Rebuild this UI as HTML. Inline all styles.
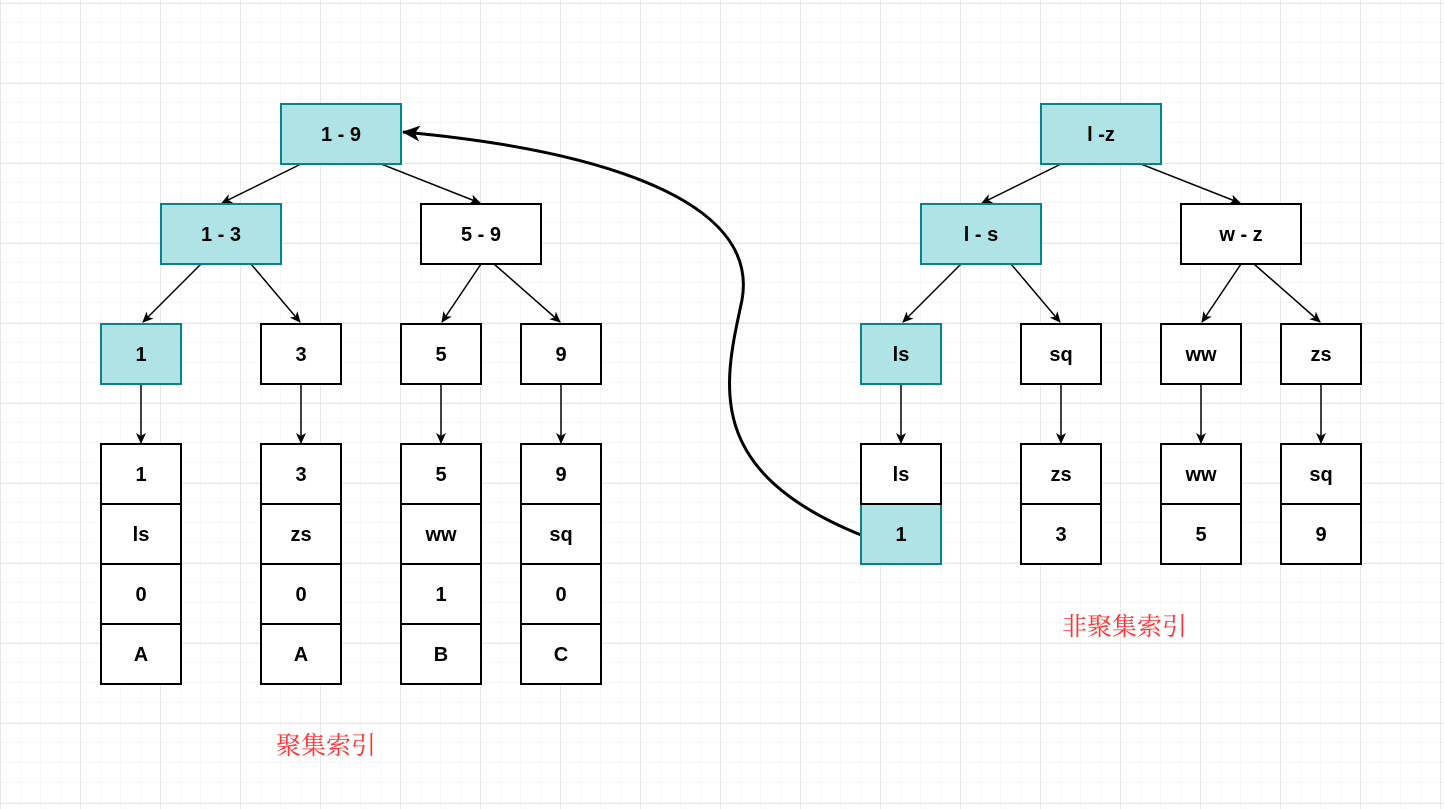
<!DOCTYPE html><html><head><meta charset="utf-8"><style>
body{margin:0;background:#fff}
svg{display:block}
text{font-family:"Liberation Sans",sans-serif;font-weight:bold;font-size:20px}
.cn{font-family:"Liberation Serif","Noto Serif CJK SC",serif;font-weight:normal;font-size:25px;fill:#ff3333}
</style></head><body>
<svg width="1444" height="809" xmlns="http://www.w3.org/2000/svg">
<defs>
<pattern id="mi" width="20" height="20" patternUnits="userSpaceOnUse" x="1" y="3"><path d="M20 0V20M0 20H20" stroke="#efefef" stroke-width="1" fill="none"/></pattern>
<pattern id="ma" width="80" height="80" patternUnits="userSpaceOnUse" x="0.5" y="3.5"><path d="M0 0V80M0 0H80" stroke="#d0d0d0" stroke-width="1" fill="none"/></pattern>
<marker id="ar" markerWidth="12" markerHeight="12" refX="10" refY="6" orient="auto" markerUnits="userSpaceOnUse"><path d="M0,1 L11,6 L0,11 L3,6Z" fill="#000"/></marker>
<marker id="ar2" markerWidth="20" markerHeight="18" refX="17" refY="9" orient="auto" markerUnits="userSpaceOnUse"><path d="M0,1 L18,9 L0,17 L5,9Z" fill="#000"/></marker>
</defs>
<rect width="1444" height="809" fill="url(#mi)"/>
<rect width="1444" height="809" fill="url(#ma)"/>
<g stroke="#000" stroke-width="1.5" fill="none" marker-end="url(#ar)">
<line x1="301" y1="164" x2="222" y2="203"/><line x1="381" y1="164" x2="480" y2="203"/>
<line x1="201" y1="264" x2="143" y2="322"/><line x1="251" y1="264" x2="300" y2="322"/>
<line x1="481" y1="264" x2="442" y2="322"/><line x1="494" y1="264" x2="560" y2="322"/>
<line x1="1061" y1="164" x2="982" y2="203"/><line x1="1141" y1="164" x2="1240" y2="203"/>
<line x1="961" y1="264" x2="903" y2="322"/><line x1="1011" y1="264" x2="1060" y2="322"/>
<line x1="1241" y1="264" x2="1202" y2="322"/><line x1="1254" y1="264" x2="1320" y2="322"/>
<line x1="141" y1="384" x2="141" y2="443"/><line x1="301" y1="384" x2="301" y2="443"/>
<line x1="441" y1="384" x2="441" y2="443"/><line x1="561" y1="384" x2="561" y2="443"/>
<line x1="901" y1="384" x2="901" y2="443"/><line x1="1061" y1="384" x2="1061" y2="443"/>
<line x1="1201" y1="384" x2="1201" y2="443"/><line x1="1321" y1="384" x2="1321" y2="443"/>
</g>
<path d="M861 535 C700 470, 725 380, 742 300 C760 200, 600 150, 403 132" stroke="#000" stroke-width="3" fill="none" marker-end="url(#ar2)"/>
<g stroke-width="2">
<g fill="#b0e3e6" stroke="#0e8088">
<rect x="281" y="104" width="120" height="60"/><rect x="161" y="204" width="120" height="60"/><rect x="101" y="324" width="80" height="60"/>
<rect x="1041" y="104" width="120" height="60"/><rect x="921" y="204" width="120" height="60"/><rect x="861" y="324" width="80" height="60"/><rect x="861" y="504" width="80" height="60"/>
</g>
<g fill="#fff" stroke="#000">
<rect x="421" y="204" width="120" height="60"/><rect x="1181" y="204" width="120" height="60"/>
<rect x="261" y="324" width="80" height="60"/><rect x="401" y="324" width="80" height="60"/><rect x="521" y="324" width="80" height="60"/>
<rect x="1021" y="324" width="80" height="60"/><rect x="1161" y="324" width="80" height="60"/><rect x="1281" y="324" width="80" height="60"/>
<rect x="101" y="444" width="80" height="240"/><rect x="261" y="444" width="80" height="240"/><rect x="401" y="444" width="80" height="240"/><rect x="521" y="444" width="80" height="240"/>
<path d="M101 504H181M101 564H181M101 624H181M261 504H341M261 564H341M261 624H341M401 504H481M401 564H481M401 624H481M521 504H601M521 564H601M521 624H601"/>
<rect x="861" y="444" width="80" height="60"/>
<rect x="1021" y="444" width="80" height="120"/><rect x="1161" y="444" width="80" height="120"/><rect x="1281" y="444" width="80" height="120"/>
<path d="M1021 504H1101M1161 504H1241M1281 504H1361"/>
</g></g>
<g text-anchor="middle">
<text x="341" y="141">1 - 9</text><text x="221" y="241">1 - 3</text><text x="481" y="241">5 - 9</text>
<text x="141" y="361">1</text><text x="301" y="361">3</text><text x="441" y="361">5</text><text x="561" y="361">9</text>
<text x="141" y="481">1</text><text x="141" y="541">ls</text><text x="141" y="601">0</text><text x="141" y="661">A</text>
<text x="301" y="481">3</text><text x="301" y="541">zs</text><text x="301" y="601">0</text><text x="301" y="661">A</text>
<text x="441" y="481">5</text><text x="441" y="541">ww</text><text x="441" y="601">1</text><text x="441" y="661">B</text>
<text x="561" y="481">9</text><text x="561" y="541">sq</text><text x="561" y="601">0</text><text x="561" y="661">C</text>
<text x="1101" y="141">l -z</text><text x="981" y="241">l - s</text><text x="1241" y="241">w - z</text>
<text x="901" y="361">ls</text><text x="1061" y="361">sq</text><text x="1201" y="361">ww</text><text x="1321" y="361">zs</text>
<text x="901" y="481">ls</text><text x="901" y="541">1</text>
<text x="1061" y="481">zs</text><text x="1061" y="541">3</text>
<text x="1201" y="481">ww</text><text x="1201" y="541">5</text>
<text x="1321" y="481">sq</text><text x="1321" y="541">9</text>
</g>
<text class="cn" x="276" y="754">聚集索引</text>
<text class="cn" x="1062" y="635">非聚集索引</text>
</svg></body></html>
